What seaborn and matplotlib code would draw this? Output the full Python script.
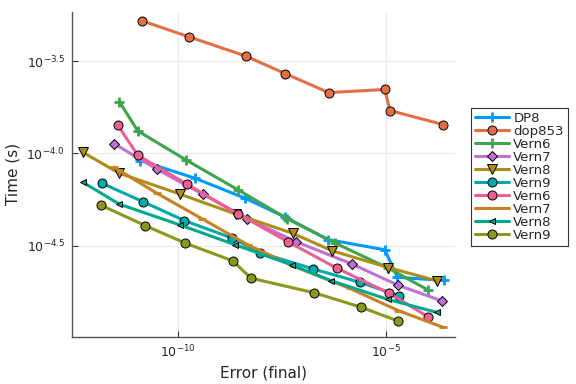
import numpy as np
import pandas as pd
import matplotlib
matplotlib.use("Agg")
import matplotlib.pyplot as plt
import seaborn as sns

# log10 of values
names = ["DP8", "dop853", "Vern6", "Vern7", "Vern8", "Vern9", "Vern6", "Vern7", "Vern8", "Vern9"]

dp8_logerr = [-10.90, -9.58, -8.38, -7.43, -6.39, -5.03, -4.73, -3.61]
dp8_logtime = [-4.039, -4.135, -4.243, -4.344, -4.467, -4.522, -4.671, -4.688]

dop853_logerr = [-10.86, -9.73, -8.37, -7.42, -6.38, -5.03, -4.91, -3.63]
dop853_logtime = [-3.282, -3.369, -3.473, -3.568, -3.671, -3.654, -3.768, -3.844]

vern6_logerr = [-11.40, -10.96, -9.79, -8.55, -7.37, -6.23, -4.95, -3.99]
vern6_logtime = [-3.720, -3.878, -4.037, -4.198, -4.354, -4.485, -4.621, -4.740]

vern7_logerr = [-11.53, -10.50, -9.40, -8.33, -7.16, -5.82, -4.71, -3.65]
vern7_logtime = [-3.947, -4.086, -4.221, -4.355, -4.478, -4.599, -4.714, -4.800]

vern8_logerr = [-12.28, -11.40, -9.94, -8.59, -7.24, -6.30, -4.95, -3.78]
vern8_logtime = [-3.994, -4.108, -4.221, -4.330, -4.433, -4.527, -4.618, -4.690]

vern9_logerr = [-11.82, -10.83, -9.84, -8.70, -8.03, -6.76, -5.63, -4.68]
vern9_logtime = [-4.162, -4.262, -4.364, -4.458, -4.537, -4.625, -4.698, -4.771]

vern6b_logerr = [-11.44, -10.96, -9.78, -8.55, -7.35, -6.18, -4.92, -3.99]
vern6b_logtime = [-3.847, -4.010, -4.167, -4.328, -4.479, -4.622, -4.758, -4.885]

vern7b_logerr = [-11.53, -10.50, -9.41, -8.31, -7.21, -5.87, -4.71, -3.63]
vern7b_logtime = [-4.075, -4.216, -4.355, -4.496, -4.612, -4.731, -4.851, -4.942]

vern8b_logerr = [-12.28, -11.40, -9.94, -8.62, -7.25, -6.31, -4.95, -3.78]
vern8b_logtime = [-4.156, -4.275, -4.388, -4.495, -4.605, -4.690, -4.791, -4.861]

vern9b_logerr = [-11.84, -10.78, -9.82, -8.68, -8.24, -6.72, -5.60, -4.72]
vern9b_logtime = [-4.281, -4.391, -4.486, -4.582, -4.676, -4.755, -4.833, -4.907]

all_err = [dp8_logerr, dop853_logerr, vern6_logerr, vern7_logerr, vern8_logerr,
           vern9_logerr, vern6b_logerr, vern7b_logerr, vern8b_logerr, vern9b_logerr]
all_time = [dp8_logtime, dop853_logtime, vern6_logtime, vern7_logtime, vern8_logtime,
            vern9_logtime, vern6b_logtime, vern7b_logtime, vern8b_logtime, vern9b_logtime]

colors = ["#009AFA", "#E36F47", "#3EA44E", "#C271D2", "#AC8D18",
          "#00A9AD", "#ED5E93", "#C68225", "#00A98D", "#8E971D"]
markers = ["+", "o", "+", "D", "v", "o", "o", "_", "<", "o"]
msizes = [7, 6.5, 7, 5, 7, 6.5, 6.5, 6, 4.5, 6.5]

rows = []
for i, (e, t) in enumerate(zip(all_err, all_time)):
    for j, (ee, tt) in enumerate(zip(e, t)):
        rows.append({"key": i, "name": names[i], "order": j,
                     "error": 10.0 ** ee, "time": 10.0 ** tt})
df = pd.DataFrame(rows)

sns.set_theme(style="white")
plt.rcParams['font.family'] = ['DejaVu Sans']

fig = plt.figure(figsize=(5.76, 3.84), dpi=100)
ax = fig.add_axes([0.125, 0.123, 0.665, 0.847])

for i in range(len(names)):
    sub = df[df["key"] == i]
    m = markers[i]
    if m in ["+", "_"]:
        kw = dict(markeredgecolor=colors[i], markeredgewidth=2.0)
    else:
        kw = dict(markeredgecolor="black", markeredgewidth=0.7)
    sns.lineplot(data=sub, x="error", y="time", sort=False, estimator=None,
                 color=colors[i], marker=m, markersize=msizes[i], linewidth=2.2,
                 label=names[i], ax=ax, **kw)

ax.set_xscale("log")
ax.set_yscale("log")
ax.set_xlim(10 ** -12.537, 10 ** -3.345)
ax.set_ylim(10 ** -4.993, 10 ** -3.232)

ax.set_xticks([1e-10, 1e-5])
ax.set_xticklabels([r"$10^{-10}$", r"$10^{-5}$"])
ax.set_yticks([10 ** -4.5, 10 ** -4.0, 10 ** -3.5])
ax.set_yticklabels([r"$10^{-4.5}$", r"$10^{-4.0}$", r"$10^{-3.5}$"])
ax.minorticks_off()
ax.tick_params(axis="both", which="major", direction="in", length=4, width=0.8,
               labelsize=9, color="#333333", bottom=True, left=True, pad=5)

ax.grid(True, color="#e6e6e6", linewidth=0.6)
for s in ["top", "right"]:
    ax.spines[s].set_visible(False)
for s in ["left", "bottom"]:
    ax.spines[s].set_color("#555555")
    ax.spines[s].set_linewidth(1.0)

ax.set_xlabel("Error (final)", fontsize=11)
ax.set_ylabel("Time (s)", fontsize=11)

leg = ax.legend(loc="upper left", bbox_to_anchor=(1.042, 0.704), fontsize=9.5,
                frameon=True, fancybox=False, framealpha=1, edgecolor="#333333",
                handlelength=2.6, handletextpad=0.3, labelspacing=0.0,
                borderpad=0.3, borderaxespad=0)
leg.get_frame().set_linewidth(0.8)

fig.savefig("out.png", dpi=100)
